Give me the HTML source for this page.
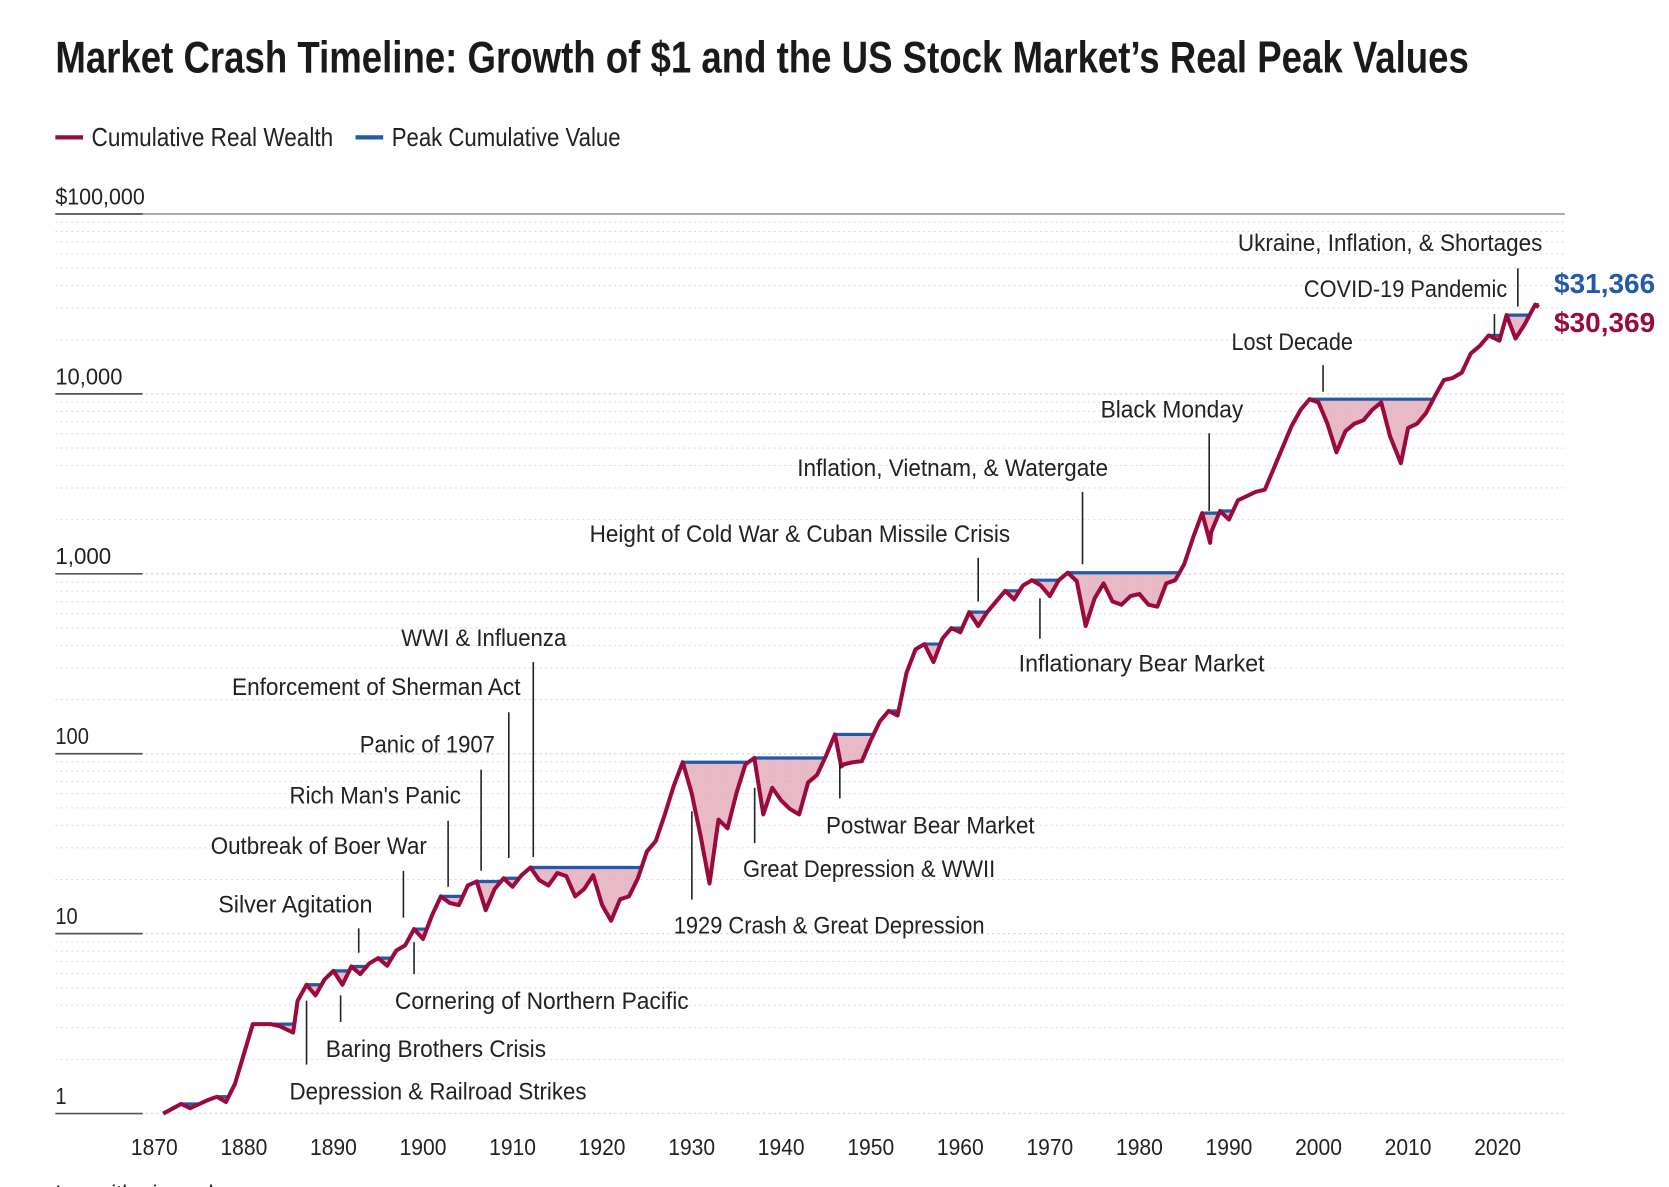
<!DOCTYPE html>
<html><head><meta charset="utf-8"><style>
html,body{margin:0;padding:0;background:#fff;overflow:hidden}
svg{display:block}
text{font-family:"Liberation Sans",sans-serif;fill:#222}
.ann{font-size:23px}
.tick{font-size:22px}
</style></head><body>
<svg id="chart" width="1669" height="1187" viewBox="0 0 1568 1115" preserveAspectRatio="none" xmlns="http://www.w3.org/2000/svg">
<text x="52" y="68" font-size="42" font-weight="bold" textLength="1328" lengthAdjust="spacingAndGlyphs" style="fill:#1a1a1a">Market Crash Timeline: Growth of $1 and the US Stock Market’s Real Peak Values</text>
<g>
<line x1="52" y1="129" x2="78" y2="129" stroke="#9b0a3c" stroke-width="4"/>
<text x="86" y="137" font-size="24" textLength="227" lengthAdjust="spacingAndGlyphs">Cumulative Real Wealth</text>
<line x1="334" y1="129" x2="360" y2="129" stroke="#2458a8" stroke-width="4"/>
<text x="368" y="137" font-size="24" textLength="215" lengthAdjust="spacingAndGlyphs">Peak Cumulative Value</text>
</g>
<g id="grid"></g>
<g id="yaxis"></g>
<g id="xaxis"></g>
<g id="series"></g>
<g stroke="#222" stroke-width="1.5">
<text class="ann" x="1163" y="236" textLength="286" lengthAdjust="spacingAndGlyphs" stroke="none">Ukraine, Inflation, &amp; Shortages</text>
<line x1="1426" y1="252" x2="1426" y2="288"/>
<text class="ann" x="1225" y="279" textLength="191" lengthAdjust="spacingAndGlyphs" stroke="none">COVID-19 Pandemic</text>
<line x1="1404" y1="295" x2="1404" y2="315"/>
<text class="ann" x="1157" y="329" textLength="114" lengthAdjust="spacingAndGlyphs" stroke="none">Lost Decade</text>
<line x1="1243" y1="343" x2="1243" y2="368"/>
<text class="ann" x="1034" y="392" textLength="134" lengthAdjust="spacingAndGlyphs" stroke="none">Black Monday</text>
<line x1="1136" y1="407" x2="1136" y2="480"/>
<text class="ann" x="749" y="447" textLength="292" lengthAdjust="spacingAndGlyphs" stroke="none">Inflation, Vietnam, &amp; Watergate</text>
<line x1="1017" y1="462" x2="1017" y2="530"/>
<text class="ann" x="554" y="509" textLength="395" lengthAdjust="spacingAndGlyphs" stroke="none">Height of Cold War &amp; Cuban Missile Crisis</text>
<line x1="919" y1="524" x2="919" y2="565"/>
<text class="ann" x="957" y="631" textLength="231" lengthAdjust="spacingAndGlyphs" stroke="none">Inflationary Bear Market</text>
<line x1="977" y1="562" x2="977" y2="600"/>
<text class="ann" x="377" y="607" textLength="155" lengthAdjust="spacingAndGlyphs" stroke="none">WWI &amp; Influenza</text>
<line x1="501" y1="622" x2="501" y2="805"/>
<text class="ann" x="218" y="653" textLength="271" lengthAdjust="spacingAndGlyphs" stroke="none">Enforcement of Sherman Act</text>
<line x1="478" y1="669" x2="478" y2="806"/>
<text class="ann" x="338" y="707" textLength="127" lengthAdjust="spacingAndGlyphs" stroke="none">Panic of 1907</text>
<line x1="452" y1="723" x2="452" y2="818"/>
<text class="ann" x="272" y="755" textLength="161" lengthAdjust="spacingAndGlyphs" stroke="none">Rich Man's Panic</text>
<line x1="421" y1="771" x2="421" y2="833"/>
<text class="ann" x="198" y="802" textLength="203" lengthAdjust="spacingAndGlyphs" stroke="none">Outbreak of Boer War</text>
<line x1="379" y1="818" x2="379" y2="862"/>
<text class="ann" x="205" y="857" textLength="145" lengthAdjust="spacingAndGlyphs" stroke="none">Silver Agitation</text>
<line x1="337" y1="872" x2="337" y2="895"/>
<text class="ann" x="776" y="783" textLength="196" lengthAdjust="spacingAndGlyphs" stroke="none">Postwar Bear Market</text>
<line x1="789" y1="718" x2="789" y2="750"/>
<text class="ann" x="698" y="824" textLength="237" lengthAdjust="spacingAndGlyphs" stroke="none">Great Depression &amp; WWII</text>
<line x1="709" y1="740" x2="709" y2="792"/>
<text class="ann" x="633" y="877" textLength="292" lengthAdjust="spacingAndGlyphs" stroke="none">1929 Crash &amp; Great Depression</text>
<line x1="650" y1="762" x2="650" y2="845"/>
<text class="ann" x="371" y="948" textLength="276" lengthAdjust="spacingAndGlyphs" stroke="none">Cornering of Northern Pacific</text>
<line x1="389" y1="885" x2="389" y2="915"/>
<text class="ann" x="306" y="993" textLength="207" lengthAdjust="spacingAndGlyphs" stroke="none">Baring Brothers Crisis</text>
<line x1="320" y1="935" x2="320" y2="960"/>
<text class="ann" x="272" y="1033" textLength="279" lengthAdjust="spacingAndGlyphs" stroke="none">Depression &amp; Railroad Strikes</text>
<line x1="288" y1="940" x2="288" y2="1000"/>
</g>
<text x="1460" y="275" font-size="26" font-weight="bold" textLength="95" lengthAdjust="spacingAndGlyphs" style="fill:#2458a8">$31,366</text>
<text x="1460" y="312" font-size="26" font-weight="bold" textLength="95" lengthAdjust="spacingAndGlyphs" style="fill:#9b0a3c">$30,369</text>
<text x="52" y="1127" font-size="20" textLength="160" lengthAdjust="spacingAndGlyphs">Logarithmic scale</text>
</svg>
<script>
const years = [1871,1873,1874,1876,1877,1878,1879,1880,1881,1883,1884,1885.5,1886,1887,1888,1889,1890,1891,1892,1893,1894,1895,1896,1897,1898,1899,1900,1901,1902,1903,1904,1905,1906,1907,1908,1909,1910,1911,1912,1913,1914,1915,1916,1917,1918,1919,1920,1921,1922,1923,1924,1925,1926,1927,1928,1929,1930,1931,1932,1933,1934,1935,1936,1937,1938,1939,1940,1941,1942,1943,1944,1945,1946,1946.7,1947,1948,1949,1950,1951,1952,1953,1954,1955,1956,1957,1958,1959,1960,1961,1962,1963,1964,1965,1966,1967,1968,1969,1970,1971,1972,1973,1974,1975,1976,1977,1978,1979,1980,1981,1982,1983,1984,1985,1986,1987,1987.9,1988,1989,1990,1991,1992,1993,1994,1995,1996,1997,1998,1999,2000,2001,2002,2003,2004,2005,2006,2007,2008,2009.2,2010,2011,2012,2013,2014,2015,2016,2017,2018,2019,2020.2,2021,2022,2023,2024.2,2024.6];
const wealth = [1.00,1.13,1.07,1.19,1.24,1.16,1.46,2.14,3.14,3.14,3.06,2.82,4.24,5.20,4.54,5.57,6.21,5.20,6.56,5.96,6.83,7.31,6.64,8.04,8.61,10.6,9.34,12.6,16.1,14.8,14.4,18.5,19.5,13.5,17.7,20.3,18.2,21.1,23.3,19.8,18.5,21.7,20.9,16.1,17.7,21.1,14.4,11.8,15.5,16.1,20.3,28.6,32.7,46.0,66.4,89.7,60.4,35.0,19.0,43.0,38.5,60.4,87.3,94.7,46.0,64.7,55.0,49.2,46.0,69.2,76.2,97.3,128,84.9,87.3,89.7,90.9,119,151,173,163,282,380,407,323,436,499,473,612,513,612,702,804,721,861,921,861,752,921,1014,910,513,731,885,702,674,752,772,674,656,885,921,1131,1589,2175,1486,1702,2234,2003,2559,2704,2857,2933,3852,5060,6644,8147,9338,8968,6828,4730,6211,6828,7119,8147,8968,5800,4121,6466,6828,7820,9727,11940,12270,13130,16790,18460,21140,19770,27390,20310,24260,31366,30369];
const yTickValues = [1,10,100,1000,10000,100000];
const yTickLabels = ["1","10","100","1,000","10,000","$100,000"];
const xTickYears = [1870,1880,1890,1900,1910,1920,1930,1940,1950,1960,1970,1980,1990,2000,2010,2020];

const NS = "http://www.w3.org/2000/svg";
const X0 = 52, X1 = 1470;
function xScale(yr){ return 145 + (yr - 1870) * (1407 - 145) / 150; }
function yScale(v){ return 1046 - Math.log10(v) * 169; }
function mk(tag, attrs, parent){
  const e = document.createElementNS(NS, tag);
  for (const k in attrs) e.setAttribute(k, attrs[k]);
  parent.appendChild(e);
  return e;
}
const grid = document.getElementById('grid');
const yaxis = document.getElementById('yaxis');
const xaxis = document.getElementById('xaxis');
const series = document.getElementById('series');

for (let d = 0; d < 5; d++) {
  for (let m = 2; m <= 9; m++) {
    const y = yScale(Math.pow(10, d) * m);
    const l = mk('line', {x1: X0, x2: X1, y1: y, y2: y, stroke: '#dedede', 'stroke-width': 1, 'stroke-dasharray': '2 3'}, grid);
    
    
  }
}
yTickValues.forEach((v, i) => {
  const y = yScale(v);
  const top = i === yTickValues.length - 1;
  const g = mk('line', {x1: X0, x2: X1, y1: y, y2: y, stroke: top ? '#777' : '#d4d4d4', 'stroke-width': 1.2, 'stroke-dasharray': top ? 'none' : '2 3'}, grid);
  
  
  const s = mk('line', {x1: X0, x2: 134, y1: y, y2: y, stroke: '#555', 'stroke-width': 1.6}, yaxis);
  
  
  const t = mk('text', {x: X0, y: y - 9, class: 'tick', textLength: yTickLabels[i].length * 10.5, lengthAdjust: 'spacingAndGlyphs'}, yaxis);
  t.textContent = yTickLabels[i];
  
  
});
xTickYears.forEach(yr => {
  const t = mk('text', {x: xScale(yr), y: 1085, class: 'tick', 'text-anchor': 'middle', textLength: 44, lengthAdjust: 'spacingAndGlyphs'}, xaxis);
  t.textContent = String(yr);
  
  
});

// running peak: flat while below, follows wealth when rising; recovery crossing interpolated
const pts = [];
let mx = wealth[0];
pts.push([xScale(years[0]), yScale(wealth[0])]);
for (let i = 1; i < years.length; i++) {
  const prevW = wealth[i - 1], w = wealth[i];
  if (w > mx) {
    if (prevW < mx) {
      const lp = Math.log10(prevW), lw = Math.log10(w), lm = Math.log10(mx);
      const t = (lm - lp) / (lw - lp);
      pts.push([xScale(years[i - 1] + t * (years[i] - years[i - 1])), yScale(mx)]);
    }
    mx = w;
  }
  pts.push([xScale(years[i]), yScale(mx)]);
}

let wd = '';
years.forEach((yr, i) => { wd += (i ? 'L' : 'M') + xScale(yr).toFixed(1) + ',' + yScale(wealth[i]).toFixed(1); });
let pd = '';
pts.forEach((p, i) => { pd += (i ? 'L' : 'M') + p[0].toFixed(1) + ',' + p[1].toFixed(1); });
let back = '';
for (let i = pts.length - 1; i >= 0; i--) back += 'L' + pts[i][0].toFixed(1) + ',' + pts[i][1].toFixed(1);

const fill = mk('path', {d: wd + back + 'Z', fill: '#dfa3b3', 'fill-opacity': 0.75, stroke: 'none'}, series);



const pl = mk('path', {d: pd, fill: 'none', stroke: '#2458a8', 'stroke-width': 3}, series);



const wl = mk('path', {d: wd, fill: 'none', stroke: '#9b0a3c', 'stroke-width': 3.8, 'stroke-linejoin': 'round'}, series);


</script>
</body></html>
